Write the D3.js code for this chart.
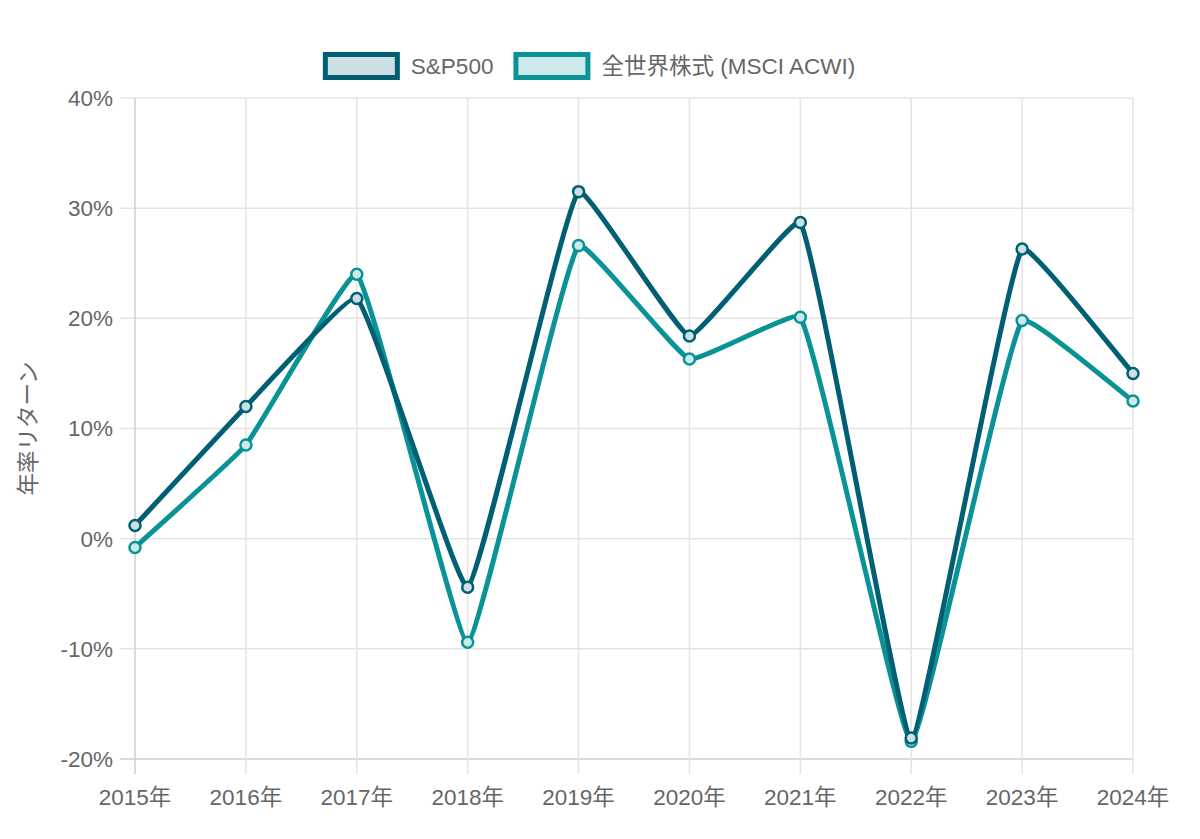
<!DOCTYPE html>
<html><head><meta charset="utf-8">
<script src="https://cdn.jsdelivr.net/npm/d3@7/dist/d3.min.js"></script>
<style>
html,body{margin:0;padding:0;background:#fff;}
svg{display:block;font-family:"Liberation Sans",Arial,"Noto Sans CJK JP",sans-serif;}
</style></head>
<body><svg id="c" width="1200" height="839"></svg>
<script>
const years = ["2015年","2016年","2017年","2018年","2019年","2020年","2021年","2022年","2023年","2024年"];
const sp500 = [1.2, 12.0, 21.8, -4.4, 31.5, 18.4, 28.7, -18.1, 26.3, 15.0];
const acwi = [-0.8, 8.5, 24.0, -9.4, 26.6, 16.3, 20.1, -18.4, 19.8, 12.5];
const yTicks = [-20, -10, 0, 10, 20, 30, 40];
const seriesNames = ["S&P500", "全世界株式 (MSCI ACWI)"];
const seriesColors = ["#005f73", "#0a9396"];
const seriesFills = ["rgba(0,95,115,0.2)", "rgba(10,147,150,0.2)"];
const yTitle = "年率リターン";

const svg = d3.select("#c");
const L = 135, R = 1133, T = 98, B = 759;
const x = d3.scalePoint().domain(years).range([L, R]);
const y = d3.scaleLinear().domain([-20, 40]).range([B, T]);
const textColor = "#666";
const fs = 22.5;

// grid
const g = svg.append("g");
g.selectAll("line.yg").data(yTicks).join("line")
  .attr("x1", L - 15).attr("x2", R).attr("y1", d => y(d)).attr("y2", d => y(d))
  .attr("stroke", d => d === -20 ? "#cfcfcf" : "#e4e4e4").attr("stroke-width", 1.5);
g.selectAll("line.xg").data(years).join("line")
  .attr("y1", T).attr("y2", B + 15).attr("x1", d => x(d)).attr("x2", d => x(d))
  .attr("stroke", (d, i) => i === 0 ? "#cfcfcf" : "#e4e4e4").attr("stroke-width", 1.5);

// tick labels
g.selectAll("text.yl").data(yTicks).join("text")
  .attr("x", L - 22).attr("y", d => y(d)).attr("dy", "0.35em")
  .attr("text-anchor", "end").attr("fill", textColor).attr("font-size", fs)
  .text(d => d + "%");
g.selectAll("text.xl").data(years).join("text")
  .attr("x", d => x(d)).attr("y", B + 38).attr("dy", "0.35em")
  .attr("text-anchor", "middle").attr("fill", textColor).attr("font-size", fs)
  .text(d => d);

svg.append("text").attr("transform", `translate(38,${(T + B) / 2}) rotate(-90)`)
  .attr("text-anchor", "middle").attr("dy", "-0.1em").attr("fill", textColor).attr("font-size", fs)
  .text(yTitle);

// Chart.js-style bezier
function splinePath(pts, t) {
  const n = pts.length;
  const cps = pts.map((p, i) => {
    const a = pts[Math.max(0, i - 1)], c = pts[Math.min(n - 1, i + 1)];
    const d01 = Math.hypot(p[0] - a[0], p[1] - a[1]);
    const d12 = Math.hypot(c[0] - p[0], c[1] - p[1]);
    let s01 = d01 / (d01 + d12), s12 = d12 / (d01 + d12);
    if (isNaN(s01)) s01 = 0; if (isNaN(s12)) s12 = 0;
    const fa = t * s01, fb = t * s12;
    const cap = (v, lo, hi) => Math.max(lo, Math.min(hi, v));
    return {
      px: cap(p[0] - fa * (c[0] - a[0]), L, R), py: cap(p[1] - fa * (c[1] - a[1]), T, B),
      nx: cap(p[0] + fb * (c[0] - a[0]), L, R), ny: cap(p[1] + fb * (c[1] - a[1]), T, B)
    };
  });
  const path = d3.path();
  path.moveTo(pts[0][0], pts[0][1]);
  for (let i = 1; i < n; i++) {
    path.bezierCurveTo(cps[i - 1].nx, cps[i - 1].ny, cps[i].px, cps[i].py, pts[i][0], pts[i][1]);
  }
  return path.toString();
}

const series = [sp500, acwi];
for (let s = series.length - 1; s >= 0; s--) {
  const pts = series[s].map((v, i) => [x(years[i]), y(v)]);
  svg.append("path").attr("d", splinePath(pts, 0.1))
    .attr("fill", "none").attr("stroke", seriesColors[s]).attr("stroke-width", 5)
    .attr("stroke-linejoin", "round").attr("stroke-linecap", "round");
  svg.append("g").selectAll("circle").data(series[s]).join("circle")
    .attr("cx", (d, i) => x(years[i])).attr("cy", d => y(d)).attr("r", 5.5)
    .attr("fill", "#fff").attr("stroke", "none");
  svg.append("g").selectAll("circle").data(series[s]).join("circle")
    .attr("cx", (d, i) => x(years[i])).attr("cy", d => y(d)).attr("r", 5.5)
    .attr("fill", seriesFills[s]).attr("stroke", seriesColors[s]).attr("stroke-width", 2.5);
}

// legend
const lg = svg.append("g");
const boxW = 72, boxH = 23, gapT = 16, gapItem = 20;
const items = seriesNames.map((nm, i) => {
  const t = lg.append("text").attr("font-size", fs).attr("fill", textColor).attr("dy", "0.35em").text(nm);
  return { t, w: t.node().getComputedTextLength(), i };
});
const total = items.reduce((a, it) => a + boxW + gapT + it.w, 0) + gapItem * (items.length - 1);
let cx = 589 - total / 2;
const ly = 66;
items.forEach(it => {
  lg.append("rect").attr("x", cx + 2.5).attr("y", ly - boxH / 2).attr("width", boxW).attr("height", boxH)
    .attr("fill", seriesFills[it.i]).attr("stroke", seriesColors[it.i]).attr("stroke-width", 5);
  it.t.attr("x", cx + boxW + gapT).attr("y", ly);
  cx += boxW + gapT + it.w + gapItem;
});
</script></body></html>
